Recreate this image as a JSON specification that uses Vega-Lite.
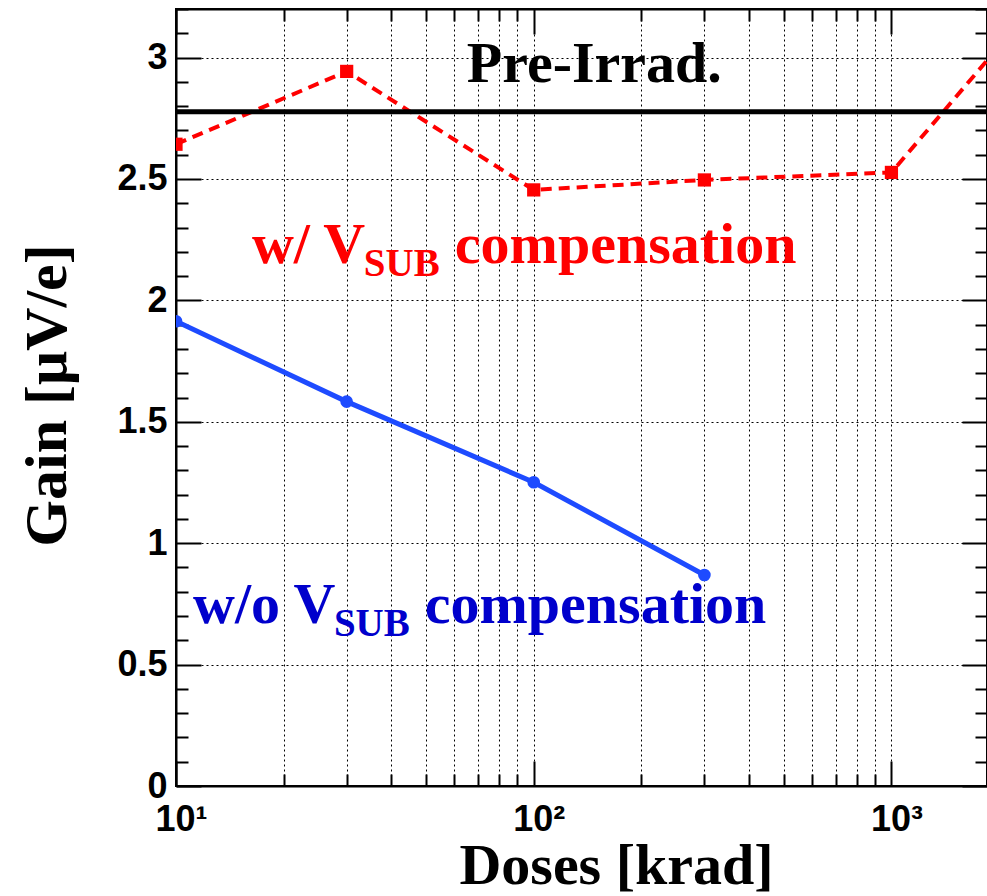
{
  "$schema": "https://vega.github.io/schema/vega-lite/v6.json",
  "width": 811,
  "height": 777,
  "autosize": {"type": "none"},
  "padding": {"left": 176, "top": 9, "right": 0, "bottom": 110},
  "background": "white",
  "config": {
    "view": {"stroke": "black", "strokeWidth": 2},
    "axis": {
      "domainColor": "black", "domainWidth": 2,
      "tickColor": "black", "tickWidth": 2,
      "labelFont": "Liberation Sans", "labelFontWeight": "bold", "labelFontSize": 36, "labelColor": "black",
      "titleFont": "Liberation Serif", "titleFontWeight": "bold", "titleFontSize": 58, "titleColor": "black",
      "gridColor": "black", "gridDash": [2, 3], "gridWidth": 1
    }
  },
  "datasets": {
    "gain": [
      {"dose": 10, "gain": 2.643, "series": "with"},
      {"dose": 30, "gain": 2.943, "series": "with"},
      {"dose": 100, "gain": 2.455, "series": "with"},
      {"dose": 300, "gain": 2.496, "series": "with"},
      {"dose": 1000, "gain": 2.527, "series": "with"},
      {"dose": 3000, "gain": 3.35, "series": "with"},
      {"dose": 10, "gain": 1.914, "series": "without"},
      {"dose": 30, "gain": 1.583, "series": "without"},
      {"dose": 100, "gain": 1.251, "series": "without"},
      {"dose": 300, "gain": 0.869, "series": "without"}
    ],
    "pre": [{"gain": 2.777}],
    "labels": [
      {"text": "Pre-Irrad.", "dose": 65.0, "gain": 2.9, "group": "pre", "kind": "main"},
      {"text": "w/ V", "dose": 16.3, "gain": 2.154, "group": "with", "kind": "main"},
      {"text": "SUB", "dose": 33.5, "gain": 2.1, "group": "with", "kind": "sub"},
      {"text": "compensation", "dose": 60.2, "gain": 2.154, "group": "with", "kind": "main"},
      {"text": "w/o V", "dose": 11.16, "gain": 0.671, "group": "without", "kind": "main"},
      {"text": "SUB", "dose": 27.63, "gain": 0.618, "group": "without", "kind": "sub"},
      {"text": "compensation", "dose": 49.6, "gain": 0.671, "group": "without", "kind": "main"}
    ]
  },
  "layer": [
    {
      "data": {"name": "gain"},
      "transform": [{"filter": "datum.series == 'with'"}],
      "mark": {"type": "line", "color": "#ff0000", "strokeWidth": 4, "strokeDash": [11, 7], "clip": true},
      "encoding": {
        "x": {
          "field": "dose", "type": "quantitative",
          "scale": {"type": "log", "domain": [10, 1850], "nice": false},
          "axis": {
            "orient": "bottom",
            "values": [10, 20, 30, 40, 50, 60, 70, 80, 90, 100, 200, 300, 400, 500, 600, 700, 800, 900, 1000],
            "labelExpr": "datum.value == 10 ? '10¹' : datum.value == 100 ? '10²' : datum.value == 1000 ? '10³' : ''",
            "tickSize": {"condition": {"test": "datum.value == 10 || datum.value == 100 || datum.value == 1000", "value": -25}, "value": -12},
            "grid": true,
            "labelBaseline": "top",
            "labelPadding": 41,
            "labelOffset": 5,
            "labelFlush": false,
            "labelOverlap": false,
            "title": "Doses [krad]",
            "titleX": 440,
            "titleY": 97,
            "titleAlign": "center",
            "titleBaseline": "alphabetic"
          }
        },
        "y": {
          "field": "gain", "type": "quantitative",
          "scale": {"domain": [0, 3.2], "nice": false, "zero": false},
          "axis": {
            "orient": "left",
            "values": [0, 0.1, 0.2, 0.3, 0.4, 0.5, 0.6, 0.7, 0.8, 0.9, 1, 1.1, 1.2, 1.3, 1.4, 1.5, 1.6, 1.7, 1.8, 1.9, 2, 2.1, 2.2, 2.3, 2.4, 2.5, 2.6, 2.7, 2.8, 2.9, 3, 3.1, 3.2],
            "labelExpr": "datum.value * 2 == round(datum.value * 2) ? '' + datum.value : ''",
            "tickSize": {"condition": {"test": "datum.value * 2 == round(datum.value * 2)", "value": -25}, "value": -12},
            "grid": true,
            "gridOpacity": {"condition": {"test": "datum.value * 2 == round(datum.value * 2)", "value": 1}, "value": 0},
            "labelBaseline": "middle",
            "labelPadding": 34,
            "labelFlush": false,
            "labelOverlap": false,
            "title": "Gain [μV/e]",
            "titleFontSize": 60,
            "titleX": -111,
            "titleY": 386,
            "titleAngle": 270,
            "titleAlign": "center",
            "titleBaseline": "alphabetic"
          }
        }
      }
    },
    {
      "data": {"name": "gain"},
      "transform": [{"filter": "datum.series == 'with'"}],
      "mark": {"type": "point", "shape": "square", "filled": true, "color": "#ff0000", "size": 175, "opacity": 1, "clip": true},
      "encoding": {
        "x": {
          "field": "dose", "type": "quantitative",
          "axis": {
            "orient": "top",
            "values": [10, 20, 30, 40, 50, 60, 70, 80, 90, 100, 200, 300, 400, 500, 600, 700, 800, 900, 1000],
            "labels": false,
            "grid": false,
            "tickSize": {"condition": {"test": "datum.value == 10 || datum.value == 100 || datum.value == 1000", "value": -25}, "value": -12},
            "title": null
          }
        },
        "y": {
          "field": "gain", "type": "quantitative",
          "axis": {
            "orient": "right",
            "values": [0, 0.1, 0.2, 0.3, 0.4, 0.5, 0.6, 0.7, 0.8, 0.9, 1, 1.1, 1.2, 1.3, 1.4, 1.5, 1.6, 1.7, 1.8, 1.9, 2, 2.1, 2.2, 2.3, 2.4, 2.5, 2.6, 2.7, 2.8, 2.9, 3, 3.1, 3.2],
            "labels": false,
            "grid": false,
            "tickSize": {"condition": {"test": "datum.value * 2 == round(datum.value * 2)", "value": -25}, "value": -12},
            "title": null
          }
        }
      }
    },
    {
      "data": {"name": "gain"},
      "transform": [{"filter": "datum.series == 'without'"}],
      "mark": {"type": "line", "color": "#1e4bff", "strokeWidth": 5, "clip": true},
      "encoding": {
        "x": {"field": "dose", "type": "quantitative", "axis": null},
        "y": {"field": "gain", "type": "quantitative", "axis": null}
      }
    },
    {
      "data": {"name": "gain"},
      "transform": [{"filter": "datum.series == 'without'"}],
      "mark": {"type": "point", "shape": "circle", "filled": true, "color": "#1e4bff", "size": 160, "opacity": 1, "clip": true},
      "encoding": {
        "x": {"field": "dose", "type": "quantitative", "axis": null},
        "y": {"field": "gain", "type": "quantitative", "axis": null}
      }
    },
    {
      "data": {"name": "pre"},
      "mark": {"type": "rule", "color": "black", "strokeWidth": 5},
      "encoding": {
        "y": {"field": "gain", "type": "quantitative", "axis": null}
      }
    },
    {
      "data": {"name": "labels"},
      "transform": [{"filter": "datum.kind == 'main'"}],
      "mark": {"type": "text", "font": "Liberation Serif", "fontWeight": "bold", "fontSize": 58, "align": "left", "baseline": "alphabetic"},
      "encoding": {
        "x": {"field": "dose", "type": "quantitative", "axis": null},
        "y": {"field": "gain", "type": "quantitative", "axis": null},
        "text": {"field": "text"},
        "color": {"field": "group", "type": "nominal", "scale": {"domain": ["pre", "with", "without"], "range": ["black", "#ff0000", "#0000cc"]}, "legend": null}
      }
    },
    {
      "data": {"name": "labels"},
      "transform": [{"filter": "datum.kind == 'sub'"}],
      "mark": {"type": "text", "font": "Liberation Serif", "fontWeight": "bold", "fontSize": 39, "align": "left", "baseline": "alphabetic"},
      "encoding": {
        "x": {"field": "dose", "type": "quantitative", "axis": null},
        "y": {"field": "gain", "type": "quantitative", "axis": null},
        "text": {"field": "text"},
        "color": {"field": "group", "type": "nominal", "scale": {"domain": ["pre", "with", "without"], "range": ["black", "#ff0000", "#0000cc"]}, "legend": null}
      }
    }
  ],
  "resolve": {"axis": {"x": "independent", "y": "independent"}}
}
